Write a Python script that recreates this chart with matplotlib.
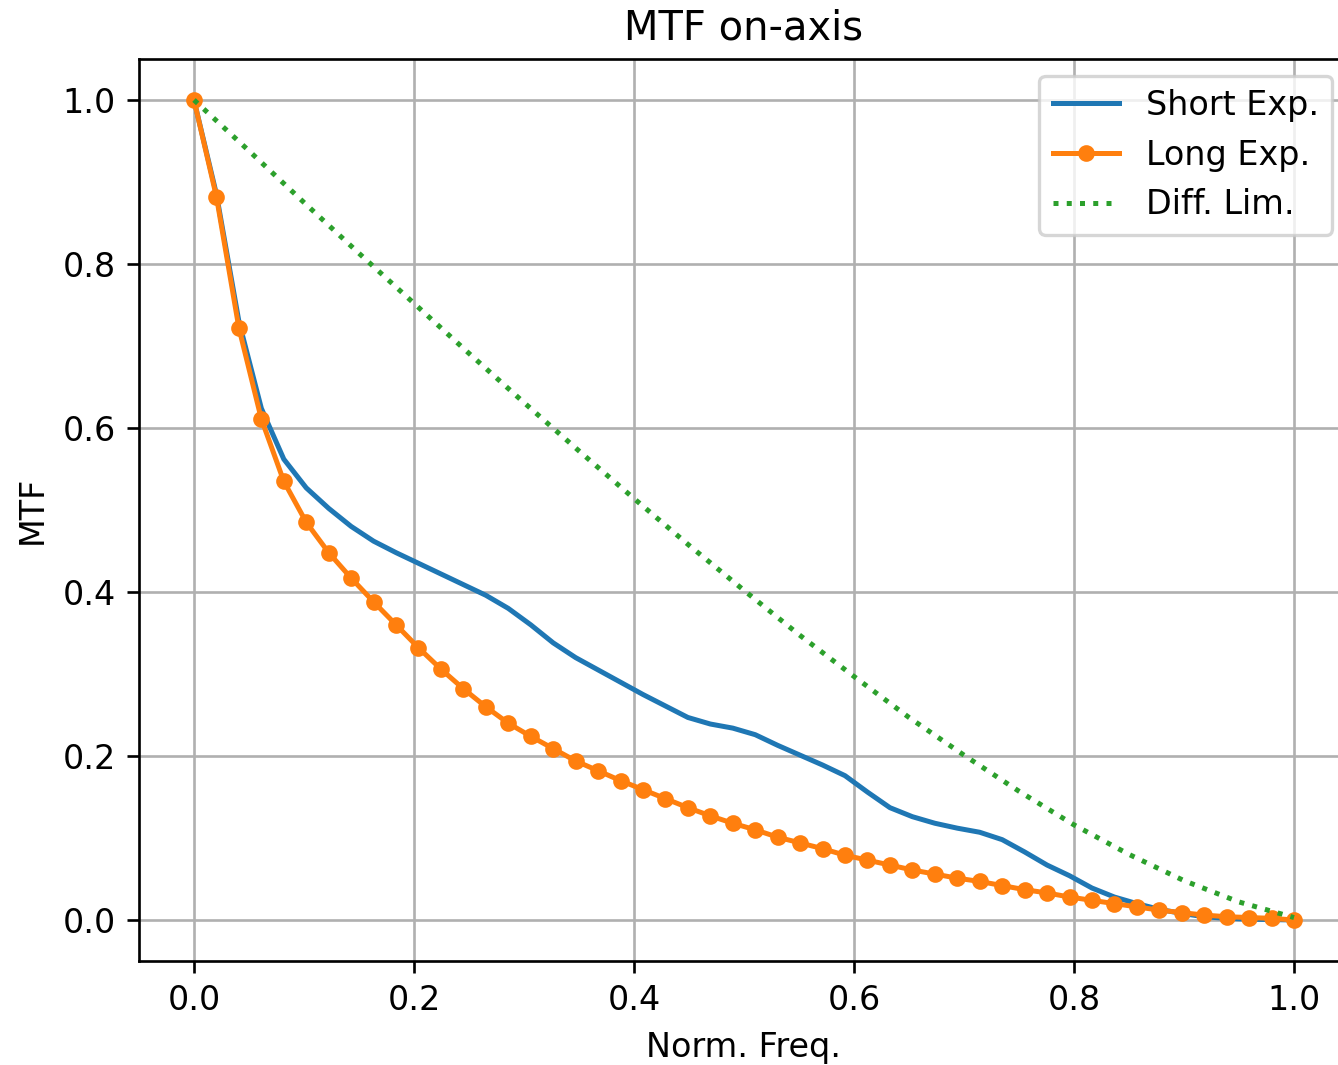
import numpy as np
import matplotlib
matplotlib.use("Agg")
import matplotlib.pyplot as plt

# Normalised frequency samples (50 evenly spaced points from 0 to 1)
freq = np.linspace(0.0, 1.0, 50)

short_exp = [1.000, 0.885, 0.730, 0.624, 0.562, 0.527, 0.502, 0.480, 0.462, 0.448,
             0.435, 0.422, 0.409, 0.396, 0.380, 0.360, 0.338, 0.320, 0.305, 0.290,
             0.275, 0.261, 0.247, 0.239, 0.234, 0.226, 0.213, 0.201, 0.189, 0.176,
             0.156, 0.137, 0.126, 0.118, 0.112, 0.107, 0.098, 0.083, 0.067, 0.054,
             0.039, 0.028, 0.020, 0.013, 0.008, 0.004, 0.002, 0.001, 0.0005, 0.000]

long_exp = [1.000, 0.882, 0.722, 0.611, 0.535, 0.485, 0.448, 0.417, 0.388, 0.360,
            0.332, 0.306, 0.282, 0.260, 0.240, 0.224, 0.209, 0.194, 0.182, 0.170,
            0.159, 0.148, 0.137, 0.127, 0.118, 0.110, 0.101, 0.094, 0.087, 0.079,
            0.073, 0.067, 0.061, 0.056, 0.051, 0.047, 0.042, 0.037, 0.033, 0.028,
            0.024, 0.020, 0.016, 0.012, 0.009, 0.006, 0.004, 0.003, 0.002, 0.000]

diff_freq = [0.00, 0.05, 0.10, 0.15, 0.20, 0.25, 0.30, 0.35, 0.40, 0.45, 0.50,
             0.55, 0.60, 0.65, 0.70, 0.75, 0.80, 0.85, 0.90, 0.95, 1.00]
diff_lim = [1.000, 0.938, 0.875, 0.813, 0.752, 0.691, 0.631, 0.572, 0.514, 0.457, 0.402,
            0.348, 0.297, 0.247, 0.201, 0.157, 0.116, 0.080, 0.048, 0.022, 0.003]

x_ticks = [0.0, 0.2, 0.4, 0.6, 0.8, 1.0]
y_ticks = [0.0, 0.2, 0.4, 0.6, 0.8, 1.0]

W, H, DPI = 1338, 1065, 240
fig = plt.figure(figsize=(W / DPI, H / DPI), dpi=DPI)
left, right, top, bottom = 139, 1349, 59, 961
ax = fig.add_axes([left / W, (H - bottom) / H, (right - left) / W, (bottom - top) / H])

ax.plot(freq, short_exp, color="#1f77b4", lw=1.5, label="Short Exp.")
ax.plot(freq, long_exp, color="#ff7f0e", lw=1.5, marker="o", markersize=4, label="Long Exp.")
ax.plot(diff_freq, diff_lim, color="#2ca02c", lw=1.5, linestyle=":", label="Diff. Lim.")

ax.set_xlim(-0.05, 1.05)
ax.set_ylim(-0.05, 1.05)
ax.set_xticks(x_ticks)
ax.set_yticks(y_ticks)
ax.set_xticklabels([f"{v:.1f}" for v in x_ticks])
ax.set_yticklabels([f"{v:.1f}" for v in y_ticks])
ax.grid(True)
ax.set_title("MTF on-axis", fontsize=12)
ax.set_xlabel("Norm. Freq.")
ax.set_ylabel("MTF")
ax.legend(loc="upper right")

fig.savefig("out.png", dpi=DPI)
